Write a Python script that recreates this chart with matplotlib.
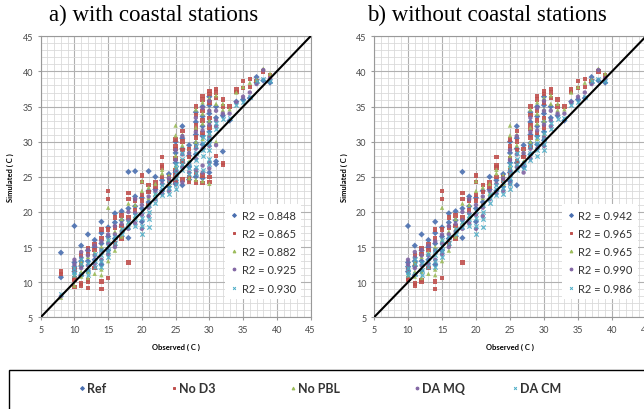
import matplotlib.pyplot as plt
from matplotlib.lines import Line2D
from matplotlib.patches import Rectangle
from matplotlib.ticker import MultipleLocator

# --- Series names, colours, markers ---
series_names = ["Ref", "No D3", "No PBL", "DA MQ", "DA CM"]
series_colors = ["#4a6fb0", "#c0504d", "#9bbb59", "#8064a2", "#4bacc6"]
series_markers = ["D", "s", "^", "o", "x"]

r2_with_coast = ["0.848", "0.865", "0.882", "0.925", "0.930"]
r2_without_coast = ["0.942", "0.965", "0.965", "0.990", "0.986"]

# --- Inland stations: (observed, [simulated values]) ---
ref_inland = [
    (10, [18.0, 12.8, 12.2, 11.5]), (11, [15.2, 13.0, 12.3, 11.0]),
    (12, [16.8, 14.5, 13.0, 11.6]), (13, [16.0, 15.0, 13.2]),
    (14, [18.6, 17.0, 15.5, 12.5]), (15, [17.8, 16.5, 14.5]),
    (16, [19.8, 18.5, 16.2]), (17, [20.1, 18.8]), (18, [25.7, 20.5, 16.3]),
    (19, [22.2, 20.8]), (20, [22.0, 20.5, 18.6]), (21, [23.0, 21.4]),
    (22, [25.0, 23.2]), (23, [24.5, 23.0]), (24, [25.4, 23.6]),
    (25, [30.0, 28.4, 27.0, 25.6, 24.4]), (26, [32.2, 30.5, 29.0, 27.0, 23.8]),
    (27, [29.5, 28.0, 26.4]), (28, [34.2, 32.8, 31.0, 29.8, 28.2]),
    (29, [35.0, 33.6, 32.2, 30.8, 29.6]), (30, [36.4, 35.2, 34.0, 32.8, 31.4, 30.2]),
    (31, [35.0, 33.4]), (32, [33.7]), (33, [33.0]), (34, [35.7]), (35, [36.0]),
    (36, [36.2]), (37, [39.2, 38.4]), (38, [38.7]), (39, [38.4]),
]
nod3_inland = [
    (10, [10.3, 10.5, 11.8]), (11, [9.5, 9.8, 12.5, 13.8]),
    (12, [10.1, 10.3, 14.0, 14.8]), (13, [12.0, 15.4, 14.6]),
    (14, [9.0, 10.1, 17.5, 16.2]), (15, [23.0, 21.8, 10.6, 17.5]),
    (16, [19.2, 17.8, 15.5]), (17, [19.5, 16.2, 18.0]), (18, [22.7, 21.8, 12.8, 19.2]),
    (19, [21.6, 20.2]), (20, [25.2, 24.3, 22.4, 21.6]), (21, [23.8, 22.8, 21.0]),
    (22, [24.2, 23.6]), (23, [27.8, 26.6, 26.3, 25.0]), (24, [25.0, 24.4]),
    (25, [30.3, 29.4, 29.0, 27.6, 26.0, 25.2]), (26, [31.5, 30.0, 28.8, 27.2]),
    (27, [29.0, 27.8]), (28, [35.0, 33.8, 32.4, 31.8, 30.6, 29.2]),
    (29, [36.5, 36.0, 34.4, 33.0, 31.2]), (30, [37.2, 36.8, 35.6, 33.4, 32.0]),
    (31, [37.5, 37.0, 36.2]), (32, [36.0, 35.0]), (33, [35.0]), (34, [37.4, 37.1]),
    (35, [38.6, 37.6]), (36, [38.9, 37.8]), (37, [38.6]), (38, [40.0]), (39, [39.4]),
]
nopbl_inland = [
    (10, [11.0, 12.0]), (11, [10.8, 11.5, 12.8]), (12, [10.6, 11.5, 13.6]),
    (13, [11.2, 14.2]), (14, [11.0, 11.8, 15.0]), (15, [20.6, 13.0, 16.0]),
    (16, [14.5, 17.2]), (17, [17.6, 16.5, 19.0]), (18, [21.2, 18.5]),
    (19, [21.0, 19.2]), (20, [24.4, 23.0]), (21, [23.5, 22.0]), (22, [24.0, 22.6]),
    (23, [26.0, 25.5]), (24, [25.2, 24.0]), (25, [32.3, 30.9, 28.0, 26.5]),
    (26, [31.0, 29.5, 26.6]), (27, [28.6, 27.2]), (28, [34.6, 32.0, 30.0]),
    (29, [35.6, 34.0, 32.6, 30.4]), (30, [36.2, 34.6, 33.0, 31.0]),
    (31, [36.6, 35.4]), (32, [35.4, 34.5]), (33, [34.6]), (34, [37.0]),
    (35, [37.8]), (36, [38.4]), (37, [38.8]), (38, [40.4]), (39, [39.7]),
]
damq_inland = [
    (10, [13.2, 12.5, 11.8]), (11, [14.3, 13.5, 12.0]), (12, [14.6, 13.8, 12.4]),
    (13, [15.2, 13.8, 12.6]), (14, [15.8, 14.5, 13.2]), (15, [16.8, 15.5, 14.0]),
    (16, [18.0, 16.8, 15.0]), (17, [18.3, 17.2]), (18, [20.0, 18.8, 17.6]),
    (19, [21.8, 19.8, 18.4]), (20, [21.0, 19.6, 17.6]), (21, [22.2, 20.6, 19.4]),
    (22, [23.0, 21.8]), (23, [24.0, 22.6]), (24, [24.8, 23.0]),
    (25, [28.8, 27.4, 25.8, 24.0]), (26, [30.8, 28.2, 26.4]), (27, [28.4, 26.8, 25.6]),
    (28, [33.4, 31.4, 29.0, 27.6]), (29, [34.8, 31.6, 29.0]),
    (30, [35.8, 34.4, 32.4, 30.6, 29.4]), (31, [34.4, 33.0, 32.2]), (32, [34.0]),
    (33, [34.0]), (34, [35.6]), (35, [36.4]), (36, [37.0]), (37, [38.2]),
    (38, [40.2]), (39, [39.0]),
]
dacm_inland = [
    (10, [11.5, 11.0, 12.0]), (11, [11.2, 12.6, 13.3]), (12, [11.0, 11.8, 12.8]),
    (13, [12.2, 13.0, 14.0]), (14, [12.2, 13.0, 13.8, 14.6]), (15, [13.6, 14.4, 15.2, 16.0]),
    (16, [15.6, 16.4]), (17, [16.8, 17.5]), (18, [17.8, 18.6]), (19, [18.0, 19.0, 19.6]),
    (20, [16.8, 18.0, 19.2, 20.2]), (21, [17.8, 19.0, 20.0, 21.0]), (22, [21.2, 22.0, 22.6]),
    (23, [22.4, 23.2, 23.8]), (24, [22.6, 23.4, 24.2]),
    (25, [23.2, 24.0, 24.8, 25.5, 26.2, 26.8]), (26, [26.0, 26.8, 27.6, 28.4]),
    (27, [26.2, 27.0]), (28, [27.4, 28.4, 29.4]), (29, [28.0, 28.8, 29.8, 30.6]),
    (30, [28.8, 29.6, 30.4, 31.2]), (31, [31.8, 32.6]), (32, [33.2]), (33, [33.4]),
    (34, [35.2]), (35, [35.6]), (36, [36.4]), (37, [38.6]), (38, [38.9]), (39, [38.6]),
]

# --- Coastal stations (only in panel a) ---
ref_coast = [(8, [14.2, 10.7]), (19, [25.8]), (21, [25.8]), (25, [24.0]), (27, [24.6]),
             (28, [25.0]), (29, [24.8]), (30, [25.6]), (31, [27.2, 26.8]), (32, [28.6])]
nod3_coast = [(8, [11.5, 11.2]), (10, [9.3]), (12, [9.2]), (25, [24.5]), (26, [24.6]),
              (27, [24.3, 25.0]), (28, [24.2, 25.5]), (29, [24.1, 25.2]), (30, [24.3, 25.0]),
              (31, [28.0]), (32, [26.7, 27.0])]
nopbl_coast = [(8, [7.8]), (10, [9.5]), (27, [24.8]), (28, [24.6]), (29, [24.4]),
               (30, [24.0]), (31, [30.0])]
damq_coast = [(8, [8.0]), (26, [24.2]), (28, [26.0]), (29, [25.6, 26.6]),
              (30, [26.2, 27.0]), (31, [29.5])]
dacm_coast = [(8, [8.3]), (27, [25.4]), (28, [25.6, 26.4]), (29, [26.0]),
              (30, [26.8, 27.6])]

inland = [ref_inland, nod3_inland, nopbl_inland, damq_inland, dacm_inland]
coast = [ref_coast, nod3_coast, nopbl_coast, damq_coast, dacm_coast]


def flatten(columns):
    obs = [o for o, sims in columns for _ in sims]
    sim = [v for _, sims in columns for v in sims]
    return obs, sim


W, H = 644, 410
fig = plt.figure(figsize=(W / 100, H / 100), dpi=100)
plt.rcParams['font.family'] = ['Lato', 'DejaVu Sans']


def px_axes(x0, x1, y0, y1):
    return fig.add_axes([x0 / W, 1 - y1 / H, (x1 - x0) / W, (y1 - y0) / H])


def draw_panel(ax, with_coast, r2_values, title, title_x, legend_x):
    for i in range(5):
        cols = inland[i] + (coast[i] if with_coast else [])
        obs, sim = flatten(cols)
        if series_markers[i] == "x":
            ax.scatter(obs, sim, s=10, marker="x", color=series_colors[i], linewidths=0.9,
                       alpha=0.85, zorder=3)
        else:
            ax.scatter(obs, sim, s=10, marker=series_markers[i], color=series_colors[i],
                       edgecolors="none", alpha=0.9, zorder=3)
    ax.plot([5, 45], [5, 45], color="black", lw=1.5, zorder=4)
    ax.set_xlim(5, 45)
    ax.set_ylim(5, 45)
    ax.xaxis.set_major_locator(MultipleLocator(5))
    ax.yaxis.set_major_locator(MultipleLocator(5))
    ax.xaxis.set_minor_locator(MultipleLocator(1))
    ax.yaxis.set_minor_locator(MultipleLocator(1))
    ax.grid(which="major", color="#b0b0b0", lw=0.8)
    ax.grid(which="minor", color="#dadada", lw=0.6)
    ax.set_axisbelow(True)
    ax.tick_params(which="major", labelsize=6.5, labelcolor="#4a4a4a", color="#999999", length=2)
    ax.tick_params(which="minor", length=0)
    for sp in ax.spines.values():
        sp.set_color("#999999")
    ax.set_xlabel("Observed ( C )", fontsize=5.5, fontweight="bold", labelpad=6)
    ax.set_ylabel("Simulated ( C )", fontsize=5.5, fontweight="bold", labelpad=6)
    handles = [Line2D([], [], ls="none", marker=series_markers[i], color=series_colors[i],
                      markersize=2, markeredgewidth=0.7) for i in range(5)]
    labels = ["R2 = " + v for v in r2_values]
    leg = ax.legend(handles, labels, loc="upper left", bbox_to_anchor=legend_x,
                    fontsize=8, frameon=True, fancybox=False, edgecolor="none",
                    framealpha=1, handlelength=0.6, handletextpad=0.4,
                    labelspacing=0.65, borderpad=0.5, borderaxespad=0)
    for t in leg.get_texts():
        t.set_color("#333333")
    fig.text(title_x / W, 1 - 15 / H, title, fontsize=16.5, family="Liberation Serif",
             ha="center", va="center")


ax_a = px_axes(40.7, 310.5, 37.3, 318.3)
ax_b = px_axes(374, 646, 37.3, 318.3)
draw_panel(ax_a, True, r2_with_coast, "a) with coastal stations", 153.5, (0.683, 0.403))
draw_panel(ax_b, False, r2_without_coast, "b) without coastal stations", 486.5, (0.69, 0.403))

# --- Shared series legend at the bottom ---
fig.add_artist(Rectangle((9 / W, -0.02), 1.0, (410 - 371) / H + 0.02,
                         transform=fig.transFigure, fill=False, edgecolor="black", lw=1.0))
legend_marker_x = [82, 174, 293, 417, 515]
legend_y = 1 - 389 / H
for i, name in enumerate(series_names):
    fig.add_artist(Line2D([legend_marker_x[i] / W], [legend_y], transform=fig.transFigure,
                          ls="none", marker=series_markers[i], color=series_colors[i],
                          markersize=2, markeredgewidth=0.7))
    fig.text((legend_marker_x[i] + 5) / W, legend_y, name, fontsize=9, fontweight="bold",
             color="#333333", ha="left", va="center")

fig.savefig("out.png", dpi=100)
